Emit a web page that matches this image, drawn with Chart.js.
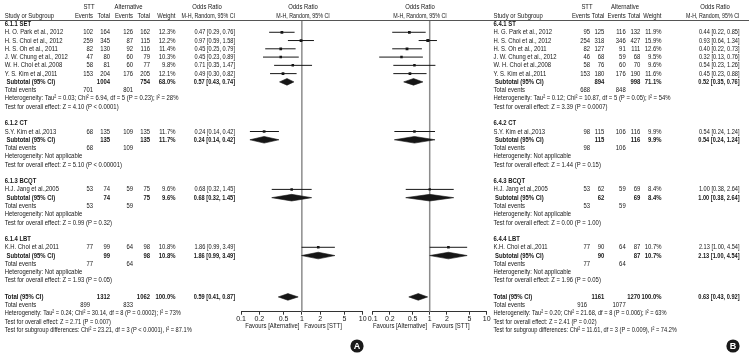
<!DOCTYPE html>
<html>
<head>
<meta charset="utf-8">
<title>Forest plots</title>
<script src="https://cdn.jsdelivr.net/npm/chart.js@4.4.1/dist/chart.umd.min.js"></script>
<style>
  body { margin: 0; background: #fff; }
  #fig { position: relative; width: 749px; height: 353px; }
  #fig canvas { position: absolute; left: 0; top: 0; }
</style>
</head>
<body>
<div id="fig">
  <canvas id="plotA" width="749" height="353"></canvas>
  <canvas id="plotB" width="749" height="353"></canvas>
</div>
<script>
// tick labels shared by both forest plots
const axisTicks = [0.1, 0.2, 0.5, 1, 2, 5, 10];

// ---- panel A (6.1.x) ----
const groupLabelsA = ['6.1.1 SET', '6.1.2 CT', '6.1.3 BCQT', '6.1.4 LBT'];
const studyNamesA = ['H. O. Park et al., 2012', 'H. S. Choi et al., 2012', 'H. S. Oh et al., 2011', 'J. W. Chung et al., 2012',
  'W. H. Choi et al.,2008', 'Y. S. Kim et al.,2011', 'S.Y. Kim et al.,2013', 'H.J. Jang et al.,2005', 'K.H. Choi et al.,2011'];
const studyGroupA = [0, 0, 0, 0, 0, 0, 1, 2, 3];
const sttEventsA = [102, 259, 82, 47, 58, 153, 68, 53, 77];
const sttTotalA = [164, 345, 130, 80, 81, 204, 135, 74, 99];
const altEventsA = [126, 87, 92, 60, 60, 176, 109, 59, 64];
const altTotalA = [162, 115, 116, 79, 77, 205, 135, 75, 98];
const weightA = [12.3, 12.2, 11.4, 10.3, 9.8, 12.1, 11.7, 9.6, 10.8];
const orA = [0.47, 0.97, 0.45, 0.45, 0.71, 0.49, 0.24, 0.68, 1.86];
const loA = [0.29, 0.59, 0.25, 0.23, 0.35, 0.30, 0.14, 0.32, 0.99];
const hiA = [0.76, 1.58, 0.79, 0.89, 1.47, 0.82, 0.42, 1.45, 3.49];
const subSttTotalA = [1004, 135, 74, 99];
const subAltTotalA = [754, 135, 75, 98];
const subWeightA = [68.0, 11.7, 9.6, 10.8];
const subOrA = [0.57, 0.24, 0.68, 1.86];
const subLoA = [0.43, 0.14, 0.32, 0.99];
const subHiA = [0.74, 0.42, 1.45, 3.49];
const subSttEventsA = [701, 68, 53, 77];
const subAltEventsA = [801, 109, 59, 64];
const subHeteroA = ['Heterogeneity: Tau² = 0.03; Chi² = 6.94, df = 5 (P = 0.23); I² = 28%',
  'Heterogeneity: Not applicable', 'Heterogeneity: Not applicable', 'Heterogeneity: Not applicable'];
const subEffectA = ['Test for overall effect: Z = 4.10 (P < 0.0001)', 'Test for overall effect: Z = 5.10 (P < 0.00001)',
  'Test for overall effect: Z = 0.99 (P = 0.32)', 'Test for overall effect: Z = 1.93 (P = 0.05)'];
const overallCountsA = [1312, 1062];
const overallEventsA = [899, 833];
const overallOrA = [0.59, 0.41, 0.87];
const overallNotesA = ['Heterogeneity: Tau² = 0.24; Chi² = 30.14, df = 8 (P = 0.0002); I² = 73%',
  'Test for overall effect: Z = 2.71 (P = 0.007)',
  'Test for subgroup differences: Chi² = 23.21, df = 3 (P < 0.0001), I² = 87.1%'];

// ---- panel B (6.4.x) ----
const groupLabelsB = ['6.4.1 ST', '6.4.2 CT', '6.4.3 BCQT', '6.4.4 LBT'];
const studyNamesB = ['H. G. Park et al., 2012', 'H. S. Choi et al., 2012', 'H. S. Oh et al., 2011', 'J. W. Chung et al., 2012',
  'W. H. Choi et al.,2008', 'Y. S. Kim et al.,2011', 'S.Y. Kim et al.,2013', 'H.J. Jang et al.,2005', 'K.H. Choi et al.,2011'];
const studyGroupB = [0, 0, 0, 0, 0, 0, 1, 2, 3];
const sttEventsB = [95, 254, 82, 46, 58, 153, 98, 53, 77];
const sttTotalB = [125, 318, 127, 68, 76, 180, 115, 62, 90];
const altEventsB = [116, 346, 91, 59, 60, 176, 106, 59, 64];
const altTotalB = [132, 427, 111, 68, 70, 190, 116, 69, 87];
const weightB = [11.9, 15.9, 12.6, 9.5, 9.6, 11.6, 9.9, 8.4, 10.7];
const orB = [0.44, 0.93, 0.40, 0.32, 0.54, 0.45, 0.54, 1.00, 2.13];
const loB = [0.22, 0.64, 0.22, 0.13, 0.23, 0.23, 0.24, 0.38, 1.00];
const hiB = [0.85, 1.34, 0.73, 0.76, 1.26, 0.88, 1.24, 2.64, 4.54];
const subSttTotalB = [894, 115, 62, 90];
const subAltTotalB = [998, 116, 69, 87];
const subWeightB = [71.1, 9.9, 8.4, 10.7];
const subOrB = [0.52, 0.54, 1.00, 2.13];
const subLoB = [0.35, 0.24, 0.38, 1.00];
const subHiB = [0.76, 1.24, 2.64, 4.54];
const subSttEventsB = [688, 98, 53, 77];
const subAltEventsB = [848, 106, 59, 64];
const subHeteroB = ['Heterogeneity: Tau² = 0.12; Chi² = 10.87, df = 5 (P = 0.05); I² = 54%',
  'Heterogeneity: Not applicable', 'Heterogeneity: Not applicable', 'Heterogeneity: Not applicable'];
const subEffectB = ['Test for overall effect: Z = 3.39 (P = 0.0007)', 'Test for overall effect: Z = 1.44 (P = 0.15)',
  'Test for overall effect: Z = 0.00 (P = 1.00)', 'Test for overall effect: Z = 1.96 (P = 0.05)'];
const overallCountsB = [1161, 1270];
const overallEventsB = [916, 1077];
const overallOrB = [0.63, 0.43, 0.92];
const overallNotesB = ['Heterogeneity: Tau² = 0.20; Chi² = 21.68, df = 8 (P = 0.006); I² = 63%',
  'Test for overall effect: Z = 2.41 (P = 0.02)',
  'Test for subgroup differences: Chi² = 11.61, df = 3 (P = 0.009), I² = 74.2%'];

// layout
const FONT = '"Liberation Sans", Arial, sans-serif';
const FS = 7.4, SX = 0.8;         // font size, horizontal squeeze of the table text
const INK = '#161616';
const TOP = 20, AXIS_Y = 311.7;   // header rule / x axis line
const ROW0 = 24, ROWH = 8.27;     // first row centre, row pitch
const H = 353, W = 749;

function layoutRows(p) {
  const rows = [];
  let r = 0;
  p.groups.forEach((g, gi) => {
    rows.push({ r: r++, kind: 'group', gi });
    p.names.forEach((n, i) => { if (p.group[i] === gi) rows.push({ r: r++, kind: 'study', i }); });
    rows.push({ r: r++, kind: 'sub', gi });
    rows.push({ r: r++, kind: 'subEvents', gi });
    rows.push({ r: r++, kind: 'hetero', gi });
    rows.push({ r: r++, kind: 'effect', gi });
    r++;
  });
  rows.push({ r: r++, kind: 'total' });
  rows.push({ r: r++, kind: 'totEvents' });
  p.notes.forEach((s, k) => rows.push({ r: r++, kind: 'note', k }));
  return rows;
}

function diamond(or, lo, hi, r) {
  const h = 0.4;
  return {
    data: [{ x: lo, y: r }, { x: or, y: r - h }, { x: hi, y: r }, { x: or, y: r + h }, { x: lo, y: r }],
    fill: 'shape', backgroundColor: INK, borderColor: INK, borderWidth: 0.6, pointRadius: 0, tension: 0
  };
}

const fmtCI = (o, l, h) => o.toFixed(2) + ' [' + l.toFixed(2) + ', ' + h.toFixed(2) + ']';

function txt(ctx, s, x, y, align, bold, squeeze) {
  ctx.save();
  ctx.font = (bold ? 'bold ' : '') + FS + 'px ' + FONT;
  ctx.fillStyle = INK;
  ctx.translate(x, y);
  ctx.scale(SX * (squeeze || 1), 1);
  ctx.textAlign = align;
  ctx.textBaseline = 'middle';
  ctx.fillText(s, 0, 0);
  ctx.restore();
}

function makePanel(id, p, c, plotLeft, plotRight) {
  const rows = layoutRows(p);
  const datasets = [];
  const squares = {
    data: [], showLine: false, pointStyle: 'rect', pointRadius: [],
    backgroundColor: INK, borderColor: INK, pointBorderWidth: 0
  };
  rows.forEach(row => {
    if (row.kind === 'study') {
      const i = row.i;
      datasets.push({ data: [{ x: p.lo[i], y: row.r }, { x: p.hi[i], y: row.r }],
        borderColor: INK, borderWidth: 1, pointRadius: 0 });
      squares.data.push({ x: p.or[i], y: row.r });
      squares.pointRadius.push(1.1 + p.weight[i] * 0.07);
    } else if (row.kind === 'sub') {
      datasets.push(diamond(p.subOr[row.gi], p.subLo[row.gi], p.subHi[row.gi], row.r));
    } else if (row.kind === 'total') {
      datasets.push(diamond(p.totOr[0], p.totOr[1], p.totOr[2], row.r));
    }
  });
  datasets.push(squares);

  const lastRow = (AXIS_Y - ROW0) / ROWH;
  const firstRow = (TOP - ROW0) / ROWH;

  const tablePlugin = {
    id: 'table' + id,
    beforeDatasetsDraw(chart) {
      const ctx = chart.ctx, xs = chart.scales.x, a = chart.chartArea;
      const x1 = xs.getPixelForValue(1);
      ctx.save();
      ctx.strokeStyle = '#8c8c8c';
      ctx.lineWidth = 1.5;
      ctx.beginPath(); ctx.moveTo(x1, a.top); ctx.lineTo(x1, a.bottom); ctx.stroke();
      ctx.strokeStyle = '#555';
      ctx.lineWidth = 1;
      ctx.beginPath(); ctx.moveTo(c.lineFrom, a.top + 0.5); ctx.lineTo(c.lineTo, a.top + 0.5); ctx.stroke();
      ctx.restore();
    },
    afterDraw(chart) {
      const ctx = chart.ctx, ys = chart.scales.y, xs = chart.scales.x;
      const y = r => ys.getPixelForValue(r);
      // headers
      txt(ctx, 'STT', c.hdrStt, y(-2), 'center');
      txt(ctx, 'Alternative', c.hdrAlt, y(-2), 'center');
      txt(ctx, 'Odds Ratio', c.hdrOr, y(-2), 'center');
      txt(ctx, 'Odds Ratio', c.forestHdr, y(-2), 'center');
      txt(ctx, 'Study or Subgroup', c.name, y(-1), 'left');
      txt(ctx, 'Events', c.sttEv, y(-1), 'right');
      txt(ctx, 'Total', c.sttTot, y(-1), 'right');
      txt(ctx, 'Events', c.altEv, y(-1), 'right');
      txt(ctx, 'Total', c.altTot, y(-1), 'right');
      txt(ctx, 'Weight', c.weight, y(-1), 'right');
      txt(ctx, 'M-H, Random, 95% CI', c.ci, y(-1), 'right', false, 0.9);
      txt(ctx, 'M-H, Random, 95% CI', c.forestHdr, y(-1), 'center', false, 0.9);

      rows.forEach(row => {
        const yy = y(row.r), g = row.gi, i = row.i;
        switch (row.kind) {
          case 'group':
            txt(ctx, p.groups[g], c.name, yy, 'left', true); break;
          case 'study':
            txt(ctx, p.names[i], c.name, yy, 'left');
            txt(ctx, String(p.sttEv[i]), c.sttEv, yy, 'right');
            txt(ctx, String(p.sttTot[i]), c.sttTot, yy, 'right');
            txt(ctx, String(p.altEv[i]), c.altEv, yy, 'right');
            txt(ctx, String(p.altTot[i]), c.altTot, yy, 'right');
            txt(ctx, p.weight[i].toFixed(1) + '%', c.weight, yy, 'right');
            txt(ctx, fmtCI(p.or[i], p.lo[i], p.hi[i]), c.ci, yy, 'right', false, 0.95);
            break;
          case 'sub':
            txt(ctx, 'Subtotal (95% CI)', c.sub, yy, 'left', true);
            txt(ctx, String(p.subSttTot[g]), c.sttTot, yy, 'right', true);
            txt(ctx, String(p.subAltTot[g]), c.altTot, yy, 'right', true);
            txt(ctx, p.subWeight[g].toFixed(1) + '%', c.weight, yy, 'right', true);
            txt(ctx, fmtCI(p.subOr[g], p.subLo[g], p.subHi[g]), c.ci, yy, 'right', true, 0.95);
            break;
          case 'subEvents':
            txt(ctx, 'Total events', c.name, yy, 'left');
            txt(ctx, String(p.subSttEv[g]), c.sttEv, yy, 'right');
            txt(ctx, String(p.subAltEv[g]), c.altEv, yy, 'right');
            break;
          case 'hetero':
            txt(ctx, p.subHetero[g], c.name, yy, 'left'); break;
          case 'effect':
            txt(ctx, p.subEffect[g], c.name, yy, 'left'); break;
          case 'total':
            txt(ctx, 'Total (95% CI)', c.name, yy, 'left', true);
            txt(ctx, String(p.totCounts[0]), c.sttTot, yy, 'right', true);
            txt(ctx, String(p.totCounts[1]), c.altTot, yy, 'right', true);
            txt(ctx, '100.0%', c.weight, yy, 'right', true);
            txt(ctx, fmtCI(p.totOr[0], p.totOr[1], p.totOr[2]), c.ci, yy, 'right', true, 0.95);
            break;
          case 'totEvents':
            txt(ctx, 'Total events', c.name, yy, 'left');
            txt(ctx, String(p.totEvents[0]), c.sttEv - 3, yy, 'right');
            txt(ctx, String(p.totEvents[1]), c.altEv, yy, 'right');
            break;
          case 'note':
            txt(ctx, p.notes[row.k], c.name, yy, 'left', false, 0.96); break;
        }
      });

      // favours labels under the axis
      const x1 = xs.getPixelForValue(1);
      txt(ctx, 'Favours [Alternative]', x1 - 2.5, AXIS_Y + 14.5, 'right');
      txt(ctx, 'Favours [STT]', x1 + 2.5, AXIS_Y + 14.5, 'left');

      // panel badge
      ctx.save();
      ctx.fillStyle = '#1a1a1a';
      ctx.beginPath(); ctx.arc(c.badge[0], c.badge[1], 6.6, 0, Math.PI * 2); ctx.fill();
      ctx.fillStyle = '#fff';
      ctx.font = 'bold 9px ' + FONT;
      ctx.textAlign = 'center'; ctx.textBaseline = 'middle';
      ctx.fillText(c.badge[2], c.badge[0], c.badge[1] + 0.5);
      ctx.restore();
    }
  };

  return new Chart(document.getElementById(id), {
    type: 'line',
    data: { datasets },
    options: {
      responsive: false, animation: false, events: [],
      layout: { autoPadding: false, padding: { left: plotLeft, right: W - plotRight, top: TOP, bottom: H - AXIS_Y - 14 } },
      plugins: { legend: { display: false }, tooltip: { enabled: false } },
      scales: {
        x: {
          type: 'logarithmic', min: 0.1, max: 10, position: 'bottom',
          afterBuildTicks: s => { s.ticks = axisTicks.map(v => ({ value: v })); },
          afterFit: s => { s.height = 14; },
          grid: { drawOnChartArea: false, drawTicks: true, tickLength: 3, color: '#333', lineWidth: 1 },
          border: { display: true, color: '#333', width: 1 },
          ticks: { autoSkip: false, maxRotation: 0, padding: 0, color: INK,
            font: { family: FONT, size: 7 }, callback: v => String(v) }
        },
        y: { type: 'linear', display: false, reverse: true, min: firstRow, max: lastRow }
      }
    },
    plugins: [tablePlugin]
  });
}

makePanel('plotA', {
  groups: groupLabelsA, names: studyNamesA, group: studyGroupA,
  sttEv: sttEventsA, sttTot: sttTotalA, altEv: altEventsA, altTot: altTotalA,
  weight: weightA, or: orA, lo: loA, hi: hiA,
  subSttTot: subSttTotalA, subAltTot: subAltTotalA, subWeight: subWeightA,
  subOr: subOrA, subLo: subLoA, subHi: subHiA, subSttEv: subSttEventsA, subAltEv: subAltEventsA,
  subHetero: subHeteroA, subEffect: subEffectA,
  totCounts: overallCountsA, totEvents: overallEventsA, totOr: overallOrA, notes: overallNotesA
}, {
  name: 4.7, sub: 6.5, sttEv: 93, sttTot: 110, altEv: 133, altTot: 150, weight: 175.5, ci: 235,
  hdrStt: 89, hdrAlt: 128.5, hdrOr: 207, forestHdr: 303, lineFrom: 0, lineTo: 370, badge: [357, 346, 'A']
}, 241, 362.7);

makePanel('plotB', {
  groups: groupLabelsB, names: studyNamesB, group: studyGroupB,
  sttEv: sttEventsB, sttTot: sttTotalB, altEv: altEventsB, altTot: altTotalB,
  weight: weightB, or: orB, lo: loB, hi: hiB,
  subSttTot: subSttTotalB, subAltTot: subAltTotalB, subWeight: subWeightB,
  subOr: subOrB, subLo: subLoB, subHi: subHiB, subSttEv: subSttEventsB, subAltEv: subAltEventsB,
  subHetero: subHeteroB, subEffect: subEffectB,
  totCounts: overallCountsB, totEvents: overallEventsB, totOr: overallOrB, notes: overallNotesB
}, {
  name: 493.5, sub: 495, sttEv: 590, sttTot: 604.3, altEv: 625.7, altTot: 640.3, weight: 661.5, ci: 739.5,
  hdrStt: 587, hdrAlt: 625, hdrOr: 715, forestHdr: 420, lineFrom: 370, lineTo: 749, badge: [733, 346, 'B']
}, 372.7, 486.7);
</script>
</body>
</html>
